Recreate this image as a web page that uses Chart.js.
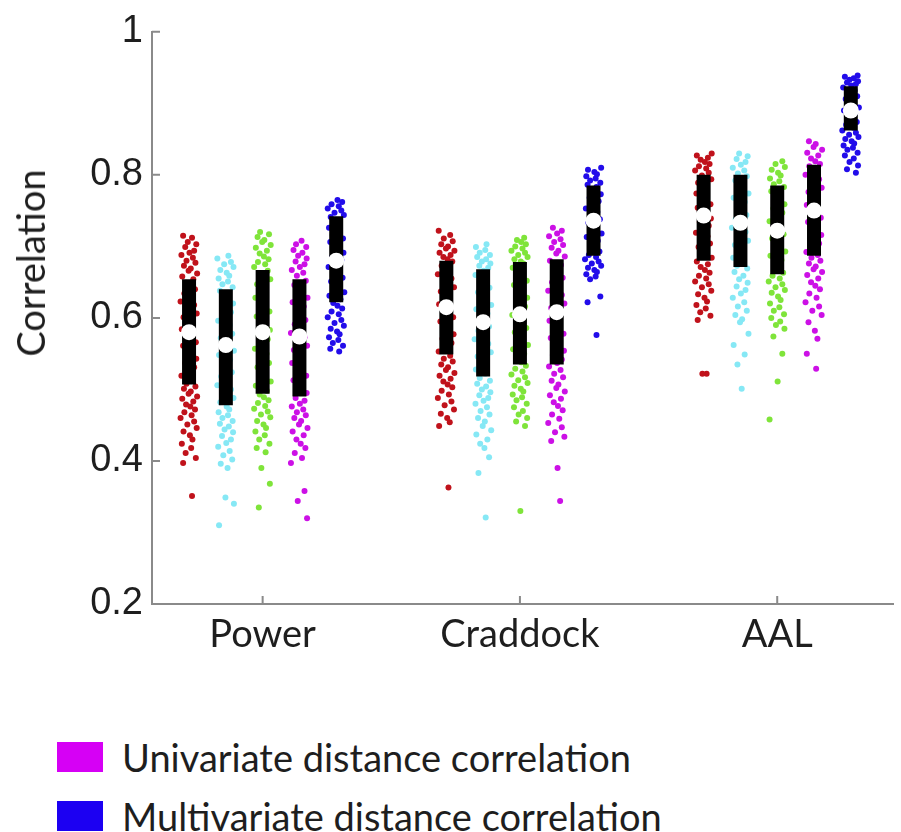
<!DOCTYPE html>
<html>
<head>
<meta charset="utf-8">
<script src="https://cdn.jsdelivr.net/npm/chart.js@4.4.1/dist/chart.umd.min.js"></script>
<style>
  body { margin: 0; background: #fff; }
  #wrap { position: relative; width: 901px; height: 832px; overflow: hidden; }
  #chart { position: absolute; left: 0; top: 0; }
  #ytitle {
    position: absolute; left: 30px; top: 263px;
    transform: translate(-50%, -50%) rotate(-90deg);
    font: 38px Lato, sans-serif; color: #1e1e1e; white-space: nowrap;
  }
  .leg { position: absolute; left: 57px; display: flex; align-items: center; white-space: nowrap;
         font: 38px Lato, sans-serif; color: #1e1e1e; }
  .leg span.box { display: inline-block; width: 46px; height: 30px; margin-right: 19px; }
</style>
</head>
<body>
<div id="wrap">
  <canvas id="chart" width="901" height="700"></canvas>
  <div id="ytitle">Correlation</div>
  <div class="leg" style="top:734px"><span class="box" style="background:#d600f5"></span>Univariate distance correlation</div>
  <div class="leg" style="top:793px"><span class="box" style="background:#1c00f2"></span>Multivariate distance correlation</div>
</div>
<script>
// atlases on the x axis
const atlases = ['Power', 'Craddock', 'AAL'];

// red series
const redPower = [0.715,0.712,0.706,0.703,0.699,0.694,0.691,0.688,0.684,0.680,0.677,0.673,0.669,0.666,0.662,0.658,
  0.654,0.649,0.644,0.640,0.634,0.629,0.623,0.618,0.612,0.606,0.601,0.595,0.589,0.584,0.578,0.572,0.566,0.561,0.555,0.549,0.543,0.537,0.531,0.525,0.519,0.513,0.508,
  0.504,0.501,0.497,0.494,0.490,0.487,0.483,0.479,0.476,0.472,0.468,0.464,0.460,0.455,0.451,0.446,0.441,0.436,0.430,0.424,0.418,0.411,0.404,0.397,0.351];
const redCraddock = [0.722,0.716,0.711,0.707,0.703,0.700,0.697,0.694,0.691,0.688,0.685,0.682,
  0.679,0.673,0.667,0.661,0.655,0.649,0.643,0.637,0.631,0.625,0.619,0.613,0.607,0.601,0.595,0.589,0.583,0.577,0.571,0.565,0.559,0.553,
  0.547,0.543,0.539,0.535,0.531,0.527,0.523,0.519,0.515,0.511,0.507,0.503,0.498,0.493,0.488,0.483,0.478,0.472,0.466,0.460,0.454,0.449,0.363];
const redAAL = [0.830,0.827,0.824,0.821,0.818,0.815,0.812,0.809,0.806,0.803,
  0.799,0.794,0.789,0.784,0.779,0.774,0.769,0.764,0.759,0.754,0.749,0.744,0.739,0.734,0.729,0.724,0.719,0.714,0.709,0.704,0.699,0.694,0.689,0.684,
  0.679,0.675,0.671,0.667,0.663,0.659,0.655,0.651,0.647,0.643,0.638,0.633,0.628,0.623,0.618,0.613,0.608,0.603,0.597,0.522,0.522];
const redQ1 = [0.507, 0.549, 0.680];
const redMedian = [0.580, 0.615, 0.743];
const redQ3 = [0.654, 0.680, 0.800];

// cyan series
const cyanPower = [0.687,0.683,0.678,0.675,0.671,0.667,0.663,0.659,0.655,0.651,0.647,0.643,
  0.638,0.632,0.626,0.620,0.614,0.608,0.602,0.596,0.590,0.584,0.578,0.572,0.566,0.560,0.554,0.548,0.542,0.536,0.530,0.524,0.518,0.512,0.506,0.500,0.494,0.488,0.482,
  0.476,0.472,0.468,0.464,0.460,0.456,0.452,0.448,0.444,0.440,0.435,0.430,0.425,0.420,0.414,0.408,0.402,0.396,0.390,0.349,0.340,0.310];
const cyanCraddock = [0.703,0.699,0.695,0.691,0.688,0.685,0.682,0.679,0.676,0.673,0.670,
  0.666,0.660,0.654,0.648,0.642,0.636,0.630,0.624,0.618,0.612,0.606,0.600,0.594,0.588,0.582,0.576,0.570,0.564,0.558,0.552,0.546,0.540,0.534,0.528,0.522,
  0.516,0.512,0.508,0.504,0.500,0.496,0.492,0.488,0.484,0.480,0.475,0.470,0.465,0.460,0.455,0.449,0.443,0.437,0.430,0.424,0.418,0.405,0.383,0.321];
const cyanAAL = [0.830,0.826,0.822,0.818,0.814,0.810,0.806,0.802,
  0.798,0.792,0.786,0.780,0.774,0.768,0.762,0.756,0.750,0.744,0.738,0.732,0.726,0.720,0.714,0.708,0.702,0.696,0.690,0.684,0.678,0.673,
  0.669,0.664,0.659,0.654,0.649,0.644,0.639,0.634,0.628,0.622,0.616,0.610,0.604,0.598,0.594,0.578,0.562,0.549,0.535,0.501];
const cyanQ1 = [0.478, 0.518, 0.671];
const cyanMedian = [0.562, 0.594, 0.733];
const cyanQ3 = [0.640, 0.668, 0.800];

// green series
const greenPower = [0.720,0.717,0.713,0.709,0.706,0.702,0.698,0.694,0.690,0.686,0.682,0.678,0.675,0.671,
  0.666,0.660,0.654,0.647,0.641,0.635,0.628,0.622,0.615,0.609,0.602,0.596,0.589,0.583,0.576,0.570,0.563,0.557,0.550,0.544,0.537,0.531,0.524,0.518,0.511,0.505,0.498,
  0.493,0.489,0.485,0.481,0.477,0.473,0.469,0.465,0.461,0.456,0.451,0.446,0.441,0.436,0.430,0.424,0.418,0.412,0.390,0.368,0.335];
const greenCraddock = [0.712,0.709,0.706,0.703,0.700,0.697,0.694,0.691,0.688,0.685,0.682,0.679,
  0.676,0.670,0.664,0.658,0.652,0.646,0.640,0.634,0.628,0.622,0.616,0.610,0.604,0.598,0.592,0.586,0.580,0.574,0.568,0.562,0.556,0.550,0.544,0.538,
  0.533,0.529,0.525,0.521,0.517,0.513,0.509,0.505,0.501,0.497,0.493,0.489,0.485,0.480,0.475,0.470,0.465,0.460,0.455,0.449,0.330];
const greenAAL = [0.819,0.815,0.811,0.807,0.803,0.799,0.795,0.791,0.787,
  0.783,0.777,0.771,0.765,0.759,0.753,0.747,0.741,0.735,0.729,0.723,0.717,0.711,0.705,0.699,0.693,0.687,0.681,0.675,0.669,0.663,
  0.659,0.655,0.651,0.647,0.643,0.639,0.635,0.630,0.625,0.620,0.615,0.610,0.605,0.600,0.595,0.590,0.585,0.574,0.550,0.511,0.458];
const greenQ1 = [0.494, 0.535, 0.661];
const greenMedian = [0.580, 0.605, 0.722];
const greenQ3 = [0.667, 0.678, 0.785];

// univariate distance correlation (magenta)
const uniPower = [0.708,0.703,0.699,0.695,0.691,0.687,0.683,0.679,0.675,0.671,0.667,0.663,0.659,
  0.652,0.646,0.640,0.634,0.628,0.622,0.616,0.609,0.603,0.597,0.591,0.585,0.579,0.573,0.567,0.561,0.555,0.549,0.543,0.537,0.531,0.525,0.519,0.513,0.507,0.501,0.495,
  0.488,0.484,0.480,0.476,0.472,0.468,0.464,0.460,0.456,0.451,0.446,0.441,0.436,0.430,0.424,0.418,0.411,0.404,0.397,0.358,0.344,0.320];
const uniCraddock = [0.726,0.722,0.718,0.714,0.710,0.706,0.702,0.698,0.694,0.690,0.686,
  0.680,0.674,0.668,0.662,0.656,0.650,0.644,0.638,0.632,0.626,0.620,0.614,0.608,0.602,0.596,0.590,0.584,0.578,0.572,0.566,0.560,0.554,0.548,0.542,0.537,
  0.532,0.527,0.522,0.517,0.512,0.507,0.502,0.497,0.492,0.487,0.482,0.477,0.471,0.465,0.459,0.453,0.447,0.440,0.434,0.428,0.390,0.344];
const uniAAL = [0.847,0.843,0.839,0.835,0.831,0.827,0.823,0.819,0.815,
  0.812,0.806,0.800,0.794,0.788,0.782,0.776,0.770,0.764,0.758,0.752,0.746,0.740,0.734,0.728,0.722,0.716,0.710,0.704,0.698,0.692,0.688,
  0.684,0.680,0.676,0.672,0.668,0.664,0.660,0.655,0.650,0.645,0.640,0.634,0.628,0.622,0.616,0.610,0.604,0.594,0.582,0.571,0.550,0.529];
const uniQ1 = [0.490, 0.535, 0.687];
const uniMedian = [0.574, 0.608, 0.750];
const uniQ3 = [0.654, 0.682, 0.814];

// multivariate distance correlation (blue)
const multiPower = [0.765,0.762,0.759,0.756,0.753,0.750,0.747,0.744,
  0.741,0.736,0.731,0.726,0.721,0.716,0.711,0.706,0.701,0.696,0.691,0.686,0.681,0.676,0.671,0.666,0.661,0.656,0.651,0.646,0.641,0.636,0.631,0.626,
  0.621,0.617,0.613,0.609,0.605,0.601,0.597,0.593,0.589,0.585,0.581,0.577,0.573,0.569,0.565,0.561,0.557,0.553];
const multiCraddock = [0.810,0.807,0.804,0.801,0.798,0.795,0.792,0.789,0.786,
  0.783,0.778,0.773,0.768,0.763,0.758,0.753,0.748,0.743,0.738,0.733,0.728,0.723,0.718,0.713,0.708,0.703,0.698,0.693,0.688,
  0.685,0.682,0.679,0.676,0.673,0.670,0.667,0.664,0.661,0.658,0.654,0.630,0.622,0.576];
const multiAAL = [0.939,0.937,0.935,0.933,0.931,0.929,0.927,0.925,
  0.922,0.918,0.914,0.910,0.906,0.902,0.898,0.894,0.890,0.886,0.882,0.878,0.874,0.870,0.866,0.862,
  0.859,0.856,0.853,0.850,0.847,0.844,0.841,0.838,0.835,0.831,0.827,0.823,0.818,0.813,0.808,0.803];
const multiQ1 = [0.622, 0.687, 0.862];
const multiMedian = [0.680, 0.736, 0.890];
const multiQ3 = [0.742, 0.785, 0.924];

const yTicks = [0.2, 0.4, 0.6, 0.8, 1];

// build the columns
const series = [
  { color: '#c0121b', vals: [redPower, redCraddock, redAAL], q1: redQ1, med: redMedian, q3: redQ3 },
  { color: '#86e8f5', vals: [cyanPower, cyanCraddock, cyanAAL], q1: cyanQ1, med: cyanMedian, q3: cyanQ3 },
  { color: '#7fe43a', vals: [greenPower, greenCraddock, greenAAL], q1: greenQ1, med: greenMedian, q3: greenQ3 },
  { color: '#cc10e6', vals: [uniPower, uniCraddock, uniAAL], q1: uniQ1, med: uniMedian, q3: uniQ3 },
  { color: '#220cea', vals: [multiPower, multiCraddock, multiAAL], q1: multiQ1, med: multiMedian, q3: multiQ3 }
];

const colStep = 0.143;   // distance between columns in x units
const jitWidth = 0.033;  // half width of the point cloud
const jit = [-0.7, 0.35, -0.15, 0.85, -0.45, 0.6, 0.05, -0.9, 0.45, -0.3, 0.75, -0.6, 0.2, -0.05, 0.95,
  -0.8, 0.5, -0.35, 0.15, 0.7, -0.55, 0.3, -1, 0.6, -0.2, 0.9, -0.65, 0.1, 0.4, -0.85, 0.25, -0.4, 0.8];

const datasets = [];
const medianPts = [];
series.forEach((s, si) => {
  atlases.forEach((a, ai) => {
    const cx = ai + 1 + (si - 2) * colStep;
    const col = si * 3 + ai;
    datasets.push({
      data: s.vals[ai].map((v, i) => ({ x: cx + jit[(i + col * 7) % jit.length] * jitWidth, y: v })),
      backgroundColor: s.color,
      pointRadius: 3,
      pointBorderWidth: 0,
      order: 2
    });
    datasets.push({
      data: [{ x: cx, y: s.q1[ai] }, { x: cx, y: s.q3[ai] }],
      showLine: true,
      borderColor: '#000',
      borderWidth: 14,
      borderCapStyle: 'butt',
      pointRadius: 0,
      order: 1
    });
    medianPts.push({ x: cx, y: s.med[ai] });
  });
});
datasets.push({
  data: medianPts,
  backgroundColor: '#fff',
  pointRadius: 8,
  pointBorderWidth: 0,
  order: 0
});

// small tick marks pointing into the plot
const innerTicks = {
  id: 'innerTicks',
  afterDraw(chart) {
    const ctx = chart.ctx, area = chart.chartArea;
    const xs = chart.scales.x, ys = chart.scales.y;
    ctx.save();
    ctx.strokeStyle = '#8a8a8a';
    ctx.lineWidth = 2;
    ctx.beginPath();
    yTicks.forEach(v => {
      const y = ys.getPixelForValue(v);
      ctx.moveTo(area.left, y);
      ctx.lineTo(area.left + 8, y);
    });
    atlases.forEach((a, i) => {
      const x = xs.getPixelForValue(i + 1);
      ctx.moveTo(x, area.bottom);
      ctx.lineTo(x, area.bottom - 8);
    });
    ctx.stroke();
    ctx.restore();
  }
};

new Chart(document.getElementById('chart'), {
  type: 'scatter',
  data: { datasets: datasets },
  options: {
    responsive: false,
    animation: false,
    layout: { padding: { top: 26, right: 6, left: 0, bottom: 0 } },
    plugins: { legend: { display: false }, tooltip: { enabled: false } },
    scales: {
      x: {
        type: 'linear',
        min: 0.57,
        max: 3.45,
        afterBuildTicks: scale => { scale.ticks = atlases.map((a, i) => ({ value: i + 1 })); },
        afterFit: scale => { scale.height = 96; },
        grid: { drawOnChartArea: false, drawTicks: false },
        border: { color: '#8a8a8a', width: 2 },
        ticks: {
          padding: 8,
          color: '#1e1e1e',
          font: { family: 'Lato', size: 38 },
          callback: v => atlases[Math.round(v) - 1] || ''
        }
      },
      y: {
        min: 0.2,
        max: 1,
        afterBuildTicks: scale => { scale.ticks = yTicks.map(v => ({ value: v })); },
        afterFit: scale => { scale.width = 152; },
        grid: { drawOnChartArea: false, drawTicks: false },
        border: { color: '#8a8a8a', width: 2 },
        ticks: {
          padding: 9,
          color: '#1e1e1e',
          font: { family: 'Liberation Sans', size: 38 },
          callback: v => String(Number(v.toFixed(1)))
        }
      }
    }
  },
  plugins: [innerTicks]
});
</script>
</body>
</html>
